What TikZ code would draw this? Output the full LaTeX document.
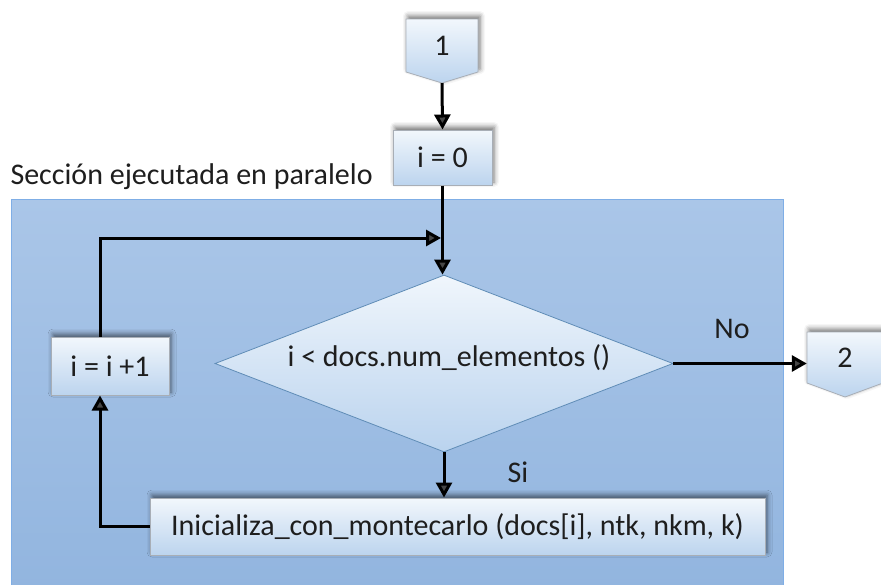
\documentclass[tikz,border=0pt]{standalone}
\usepackage{fontspec}
\setmainfont{Carlito}
\usetikzlibrary{shapes.geometric,shadows.blur,arrows.meta,calc}

\definecolor{txt}{HTML}{1E1E1E}
\definecolor{boxtop}{HTML}{F2F7FC}
\definecolor{boxbot}{HTML}{BCD4EE}
\definecolor{boxline}{HTML}{A8AEB6}
\definecolor{diatop}{HTML}{F0F6FC}
\definecolor{diabot}{HTML}{BAD3EE}
\definecolor{dialine}{HTML}{5F8CB6}
\definecolor{areatop}{HTML}{AAC6E8}
\definecolor{areabot}{HTML}{92B5DF}
\definecolor{arealine}{HTML}{7FAEE6}

\begin{document}
\begin{tikzpicture}[x=1pt,y=-1pt,
  lbl/.style={font=\fontsize{30}{34}\selectfont, text=txt},
  softshadow/.style={blur shadow={shadow xshift=2pt, shadow yshift=3pt,
      shadow blur radius=5pt, shadow opacity=55}},
  boxnode/.style={lbl, draw=boxline, line width=1pt, top color=boxtop,
      bottom color=boxbot, softshadow, inner sep=0pt},
  offpage/.style={draw=boxline, line width=0.8pt, top color=boxtop,
      bottom color=boxbot, softshadow},
  flow/.style={line width=3pt, -{Triangle[length=15pt,width=16pt]}},
]
\useasboundingbox (0,0) rectangle (881,584);

% parallel section background
\path[draw=arealine, line width=1pt, top color=areatop, bottom color=areabot]
  (11,199) rectangle (783,590);
\node[lbl, anchor=west] (sec) at (7,177) {Sección ejecutada en paralelo};

% off-page connector 1
\path[offpage] (406,19) -- (478,19) -- (478,72) -- (442,83) -- (406,72) -- cycle;
\node[lbl, minimum width=72pt, minimum height=53pt, inner sep=0pt] (c1) at (442,45.5) {1};
\coordinate (c1tip) at ($(c1.south)+(0,11)$);

% off-page connector 2
\path[offpage] (807,332) -- (883,332) -- (883,383) -- (845,397) -- (807,383) -- cycle;
\node[lbl, minimum width=76pt, minimum height=51pt, inner sep=0pt] (c2) at (845,357.5) {2};

% process boxes
\node[boxnode, minimum width=99pt, minimum height=55pt] (i0) at (442.5,157.5) {i = 0};
\node[boxnode, minimum width=118pt, minimum height=58pt] (inc) at (110,366) {i = i +1};
\node[boxnode, minimum width=615pt, minimum height=57pt] (init) at (457.5,526.5)
  {Inicializa\_con\_montecarlo (docs[i], ntk, nkm, k)};

% decision (shape only; its text sits a little above the centre)
\node[diamond, draw=dialine, line width=0.8pt, top color=diatop, bottom color=diabot,
  minimum width=458pt, minimum height=177pt, aspect=2.6, inner sep=0pt] (dia) at (444,363.5) {};
\node[lbl] (diatext) at (449,358) {i < docs.num\_elementos ()};

% connectors
\coordinate (merge) at (441,238);
\draw[flow] (c1tip) -- (i0.north);
\draw[flow] (i0.south) -- (i0.south |- dia.north);
\draw[flow] (inc.north -| 100,0) |- (merge);
\draw[flow] (dia.east) -- (dia.east -| c2.west);
\draw[flow] (dia.south) -- (dia.south |- init.north);
\draw[flow] (init.west) -| (inc.south -| 100,0);

% branch labels
\node[lbl] (no) at (732,329) {No};
\node[lbl] (si) at (518,472) {Si};
\end{tikzpicture}
\end{document}
